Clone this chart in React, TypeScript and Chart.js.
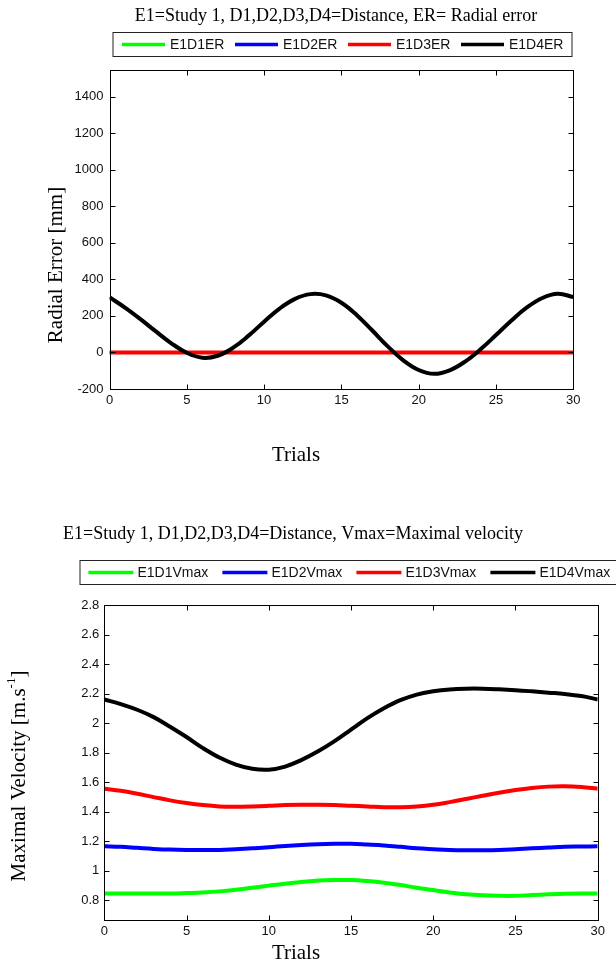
import React, { useEffect, useRef } from 'react';
import { Chart, registerables } from 'chart.js';

Chart.register(...registerables);

// ---------- data ----------
const trials = [0, 1, 2, 3, 4, 5, 6, 7, 8, 9, 10, 11, 12, 13, 14, 15, 16, 17, 18, 19, 20, 21, 22, 23, 24, 25, 26, 27, 28, 29, 30];

const erD1 = [0, 0, 0, 0, 0, 0, 0, 0, 0, 0, 0, 0, 0, 0, 0, 0, 0, 0, 0, 0, 0, 0, 0, 0, 0, 0, 0, 0, 0, 0, 0];
const erD2 = [0, 0, 0, 0, 0, 0, 0, 0, 0, 0, 0, 0, 0, 0, 0, 0, 0, 0, 0, 0, 0, 0, 0, 0, 0, 0, 0, 0, 0, 0, 0];
const erD3 = [0, 0, 0, 0, 0, 0, 0, 0, 0, 0, 0, 0, 0, 0, 0, 0, 0, 0, 0, 0, 0, 0, 0, 0, 0, 0, 0, 0, 0, 0, 0];
const erD4 = [302, 245, 182, 115, 50, -2, -29, -18, 26, 92, 168, 240, 293, 319, 312, 272, 204, 120, 33, -43, -96, -117, -98, -50, 17, 95, 175, 246, 298, 321, 303];

const vD1 = [0.845, 0.845, 0.845, 0.845, 0.845, 0.848, 0.852, 0.859, 0.870, 0.884, 0.898, 0.911, 0.922, 0.932, 0.936, 0.936, 0.929, 0.918, 0.902, 0.884, 0.868, 0.852, 0.839, 0.832, 0.829, 0.829, 0.834, 0.839, 0.843, 0.845, 0.845];
const vD2 = [1.165, 1.161, 1.154, 1.147, 1.142, 1.140, 1.140, 1.140, 1.145, 1.151, 1.158, 1.167, 1.174, 1.179, 1.181, 1.181, 1.176, 1.170, 1.161, 1.151, 1.145, 1.140, 1.138, 1.138, 1.140, 1.145, 1.151, 1.156, 1.161, 1.163, 1.165];
const vD3 = [1.555, 1.541, 1.521, 1.498, 1.476, 1.458, 1.444, 1.435, 1.433, 1.435, 1.439, 1.444, 1.446, 1.446, 1.444, 1.439, 1.435, 1.430, 1.430, 1.435, 1.446, 1.464, 1.485, 1.507, 1.528, 1.546, 1.560, 1.569, 1.571, 1.566, 1.555];
const vD4 = [2.160, 2.128, 2.090, 2.040, 1.975, 1.905, 1.830, 1.766, 1.718, 1.690, 1.684, 1.705, 1.750, 1.808, 1.877, 1.955, 2.033, 2.100, 2.155, 2.193, 2.215, 2.228, 2.233, 2.233, 2.229, 2.223, 2.215, 2.206, 2.197, 2.183, 2.160];

const erLabels = ['E1D1ER', 'E1D2ER', 'E1D3ER', 'E1D4ER'];
const vLabels = ['E1D1Vmax', 'E1D2Vmax', 'E1D3Vmax', 'E1D4Vmax'];
const seriesColors = ['#00ff00', '#0000ff', '#ff0000', '#000000'];

const xTicks = [0, 5, 10, 15, 20, 25, 30];
const erYTicks = [-200, 0, 200, 400, 600, 800, 1000, 1200, 1400];
const vYTicks = [0.8, 1, 1.2, 1.4, 1.6, 1.8, 2, 2.2, 2.4, 2.6, 2.8];

const erTitle = 'E1=Study 1, D1,D2,D3,D4=Distance, ER= Radial error';
const vTitle = 'E1=Study 1, D1,D2,D3,D4=Distance, Vmax=Maximal velocity';
const xTitle = 'Trials';

// ---------- plugin: MATLAB-like frame, title, legend, axis titles ----------
const matlabPlugin = {
  id: 'matlab',
  afterDraw(chart: any, _args: any, o: any) {
    const { ctx, chartArea: a } = chart;
    const xs = chart.scales.x;
    const ys = chart.scales.y;
    ctx.save();
    ctx.strokeStyle = '#000';
    ctx.lineWidth = 1;
    const L = Math.round(a.left) + 0.5, R = Math.round(a.right) + 0.5;
    const T = Math.round(a.top) + 0.5, B = Math.round(a.bottom) + 0.5;
    ctx.strokeRect(L, T, R - L, B - T);
    const tl = 5;
    ctx.beginPath();
    xs.ticks.forEach((t: any) => {
      const px = Math.round(xs.getPixelForValue(t.value)) + 0.5;
      ctx.moveTo(px, B); ctx.lineTo(px, B - tl);
      ctx.moveTo(px, T); ctx.lineTo(px, T + tl);
    });
    ys.ticks.forEach((t: any) => {
      const py = Math.round(ys.getPixelForValue(t.value)) + 0.5;
      ctx.moveTo(L, py); ctx.lineTo(L + tl, py);
      ctx.moveTo(R, py); ctx.lineTo(R - tl, py);
    });
    ctx.stroke();

    // title
    ctx.fillStyle = '#000';
    ctx.font = '18px "Liberation Serif"';
    ctx.textBaseline = 'middle';
    ctx.textAlign = o.titleAlign;
    ctx.fillText(o.title, o.titleX, o.titleY);

    // legend
    const lg = o.legend;
    ctx.fillStyle = '#fff';
    ctx.fillRect(lg.x, lg.y, lg.w, lg.h);
    ctx.strokeStyle = '#222';
    ctx.lineWidth = 1;
    ctx.strokeRect(lg.x + 0.5, lg.y + 0.5, lg.w, lg.h);
    const yc = lg.y + lg.h / 2 + 0.5;
    ctx.font = '14px "Liberation Sans"';
    ctx.textAlign = 'left';
    chart.data.datasets.forEach((ds: any, i: number) => {
      const x0 = lg.startX + i * lg.spacing;
      ctx.strokeStyle = ds.borderColor;
      ctx.lineWidth = 3.5;
      ctx.beginPath();
      ctx.moveTo(x0, yc);
      ctx.lineTo(x0 + lg.lineLen, yc);
      ctx.stroke();
      ctx.fillStyle = '#111';
      ctx.fillText(ds.label, x0 + lg.lineLen + lg.gap, yc + 1);
    });

    // x title
    ctx.fillStyle = '#000';
    ctx.font = '21px "Liberation Serif"';
    ctx.textAlign = 'center';
    ctx.fillText(o.xTitle, o.xTitleX, o.xTitleY);

    // y title (rotated, optional superscript)
    ctx.translate(o.yTitleX, o.yTitleY);
    ctx.rotate(-Math.PI / 2);
    ctx.textAlign = 'left';
    const parts = o.yTitleParts as { t: string; sup?: boolean }[];
    const widths = parts.map((p) => {
      ctx.font = p.sup ? '13px "Liberation Serif"' : '21px "Liberation Serif"';
      return ctx.measureText(p.t).width;
    });
    let x = -widths.reduce((s, w) => s + w, 0) / 2;
    parts.forEach((p, i) => {
      ctx.font = p.sup ? '13px "Liberation Serif"' : '21px "Liberation Serif"';
      ctx.fillText(p.t, x, p.sup ? -7 : 0);
      x += widths[i];
    });
    ctx.restore();
  },
};

function makeConfig(
  labels: string[],
  series: number[][],
  widths: number[],
  yMin: number,
  yMax: number,
  yTicks: number[],
  yPad: number,
  padding: any,
  plug: any
): any {
  const orders = [4, 3, 2, 1];
  return {
    type: 'line',
    data: {
      datasets: series.map((vals, i) => ({
        label: labels[i],
        data: trials.map((t, j) => ({ x: t, y: vals[j] })),
        borderColor: seriesColors[i],
        backgroundColor: seriesColors[i],
        borderWidth: widths[i],
        pointRadius: 0,
        tension: 0.4,
        fill: false,
        order: orders[i],
      })),
    },
    options: {
      responsive: false,
      animation: false,
      devicePixelRatio: 1,
      layout: { padding },
      plugins: {
        legend: { display: false },
        title: { display: false },
        tooltip: { enabled: false },
        matlab: plug,
      },
      scales: {
        x: {
          type: 'linear',
          min: 0,
          max: 30,
          grid: { display: false, drawTicks: false },
          border: { display: false },
          afterBuildTicks: (s: any) => {
            s.ticks = xTicks.map((v) => ({ value: v }));
          },
          afterFit: (s: any) => {
            s.height = 30;
          },
          ticks: {
            autoSkip: false,
            maxRotation: 0,
            padding: 4,
            color: '#111',
            font: { family: 'Liberation Sans', size: 13 },
            callback: (v: any) => String(v),
          },
        },
        y: {
          type: 'linear',
          min: yMin,
          max: yMax,
          grid: { display: false, drawTicks: false },
          border: { display: false },
          afterBuildTicks: (s: any) => {
            s.ticks = yTicks.map((v) => ({ value: v }));
          },
          afterFit: (s: any) => {
            s.width = 60;
          },
          ticks: {
            autoSkip: false,
            padding: yPad,
            color: '#111',
            font: { family: 'Liberation Sans', size: 13 },
            callback: (v: any) => String(v),
          },
        },
      },
    },
    plugins: [matlabPlugin],
  };
}

const CANVAS_H = 482;

export default function App() {
  const topRef = useRef<HTMLCanvasElement | null>(null);
  const botRef = useRef<HTMLCanvasElement | null>(null);

  useEffect(() => {
    const c1 = new Chart(
      topRef.current as HTMLCanvasElement,
      makeConfig(
        erLabels,
        [erD1, erD2, erD3, erD4],
        [2.5, 2.5, 4, 4],
        -200,
        1545,
        erYTicks,
        6,
        { left: 49.5, right: 42.7, top: 70, bottom: CANVAS_H - 389 - 30 },
        {
          title: erTitle,
          titleAlign: 'center',
          titleX: 336,
          titleY: 16,
          legend: { x: 112.5, y: 32, w: 459, h: 24, startX: 122, spacing: 113, lineLen: 43, gap: 5 },
          xTitle: xTitle,
          xTitleX: 296,
          xTitleY: 455,
          yTitleX: 56,
          yTitleY: 265,
          yTitleParts: [{ t: 'Radial Error [mm]' }],
        }
      )
    );
    const c2 = new Chart(
      botRef.current as HTMLCanvasElement,
      makeConfig(
        vLabels,
        [vD1, vD2, vD3, vD4],
        [4, 4, 4, 4],
        0.665,
        2.8,
        vYTicks,
        5,
        { left: 44.3, right: 616 - 597.7, top: 605 - CANVAS_H, bottom: CANVAS_H - (920 - CANVAS_H) - 30 },
        {
          title: vTitle,
          titleAlign: 'left',
          titleX: 63,
          titleY: 534 - CANVAS_H,
          legend: { x: 79.5, y: 560 - CANVAS_H, w: 600, h: 24, startX: 88.4, spacing: 134, lineLen: 45, gap: 4 },
          xTitle: xTitle,
          xTitleX: 296,
          xTitleY: 953 - CANVAS_H,
          yTitleX: 19,
          yTitleY: 776 - CANVAS_H,
          yTitleParts: [{ t: 'Maximal Velocity [m.s' }, { t: '-1', sup: true }, { t: ']' }],
        }
      )
    );
    return () => {
      c1.destroy();
      c2.destroy();
    };
  }, []);

  return (
    <div style={{ position: 'absolute', left: 0, top: 0, width: 616, height: 964, background: '#fff' }}>
      <canvas ref={topRef} width={616} height={CANVAS_H} style={{ display: 'block', width: 616, height: CANVAS_H }} />
      <canvas ref={botRef} width={616} height={964 - CANVAS_H} style={{ display: 'block', width: 616, height: 964 - CANVAS_H }} />
    </div>
  );
}
